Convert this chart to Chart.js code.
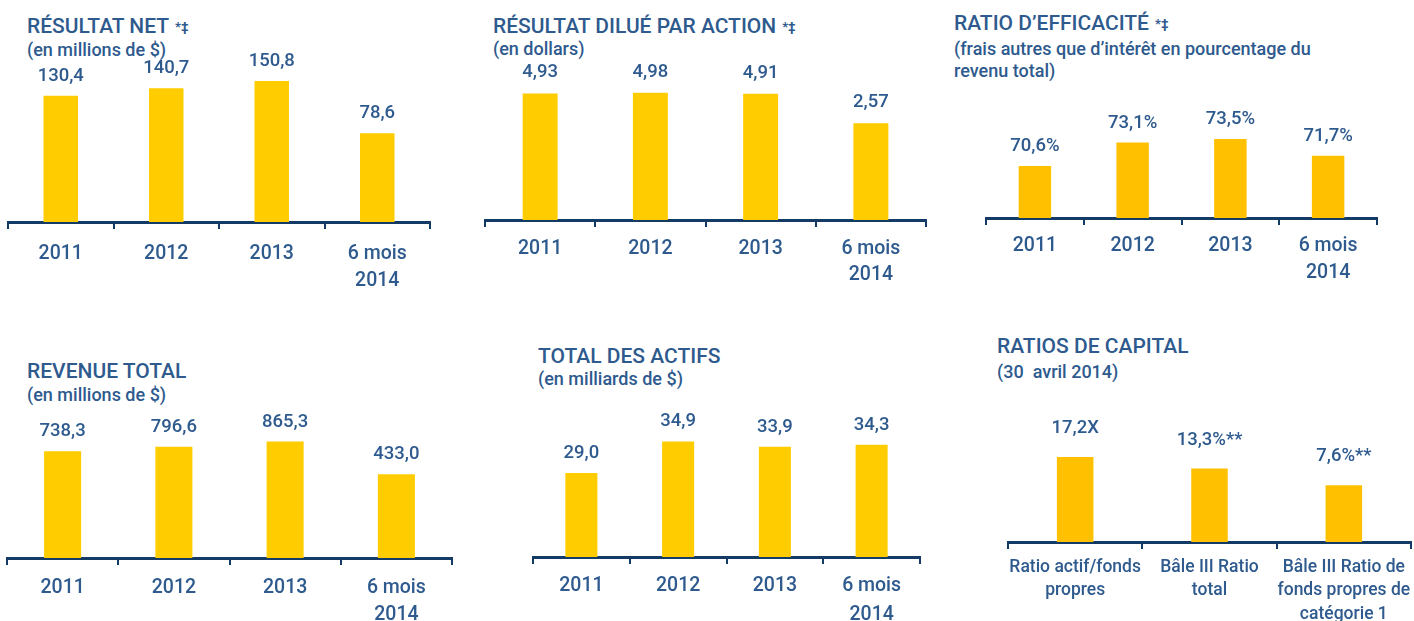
<!DOCTYPE html>
<html lang="fr">
<head>
<meta charset="utf-8">
<title>Faits saillants financiers</title>
<script src="https://cdn.jsdelivr.net/npm/chart.js@4.4.1/dist/chart.umd.min.js"></script>
<style>
html,body{margin:0;padding:0;background:#ffffff;}
body{width:1414px;height:621px;position:relative;overflow:hidden;}
.panel{position:absolute;}
.t{position:absolute;white-space:nowrap;font-family:Roboto,"Open Sans",sans-serif;font-weight:500;color:#2E5A8E;}
.title{font-size:21px;line-height:21px;}
.sub{font-size:18px;line-height:22.3px;}
.mark{font-size:13px;font-weight:700;margin-left:6px;position:relative;top:-2px;}
</style>
</head>
<body>
<div class="t title" style="left:27px;top:15.6px">RÉSULTAT NET<span class="mark">*‡</span></div>
<div class="t sub" style="left:27px;top:39.3px">(en millions de $)</div>

<div class="t title" style="left:493px;top:15.6px">RÉSULTAT DILUÉ PAR ACTION<span class="mark">*‡</span></div>
<div class="t sub" style="left:493px;top:38.3px">(en dollars)</div>

<div class="t title" style="left:954px;top:13px">RATIO D’EFFICACITÉ<span class="mark">*‡</span></div>
<div class="t sub" style="left:954px;top:37.8px">(frais autres que d’intérêt en pourcentage du<br>revenu total)</div>

<div class="t title" style="left:27px;top:360.6px">REVENUE TOTAL</div>
<div class="t sub" style="left:27px;top:383.5px">(en millions de $)</div>

<div class="t title" style="left:538px;top:345.6px">TOTAL DES ACTIFS</div>
<div class="t sub" style="left:538px;top:367.8px">(en milliards de $)</div>

<div class="t title" style="left:997px;top:336.3px">RATIOS DE CAPITAL</div>
<div class="t sub" style="left:997px;top:360.8px;white-space:pre">(30  avril 2014)</div>

<script>
// ---- data ----
const yearCategories = ['2011', '2012', '2013', ['6 mois', '2014']];
const resultatNet = [130.4, 140.7, 150.8, 78.6];
const resultatDilue = [4.93, 4.98, 4.91, 2.57];
const ratioEfficacite = [70.6, 73.1, 73.5, 71.7];
const revenuTotal = [738.3, 796.6, 865.3, 433.0];
const totalActifs = [29.0, 34.9, 33.9, 34.3];
const capitalCategories = [['Ratio actif/fonds', 'propres'], ['Bâle III Ratio', 'total'], ['Bâle III Ratio de', 'fonds propres de', 'catégorie 1']];
const ratiosCapital = [17.2, 13.3, 7.6];
const ratiosCapitalSuffix = ['X', '%**', '%**'];

// ---- styles ----
const TEXT = '#2E5A8E';
const AXIS = '#143A66';
const YELLOW = '#FFCC00';
const AMBER = '#FFC000';
const NUM_FONT = "Roboto, 'Open Sans', sans-serif";

const fmt = (decimals, suffixes) => (v, i) =>
  v.toFixed(decimals).replace('.', ',') + (Array.isArray(suffixes) ? suffixes[i] : suffixes);

const panels = [
  {box: [0, 0, 470, 305], axis: [8, 430, 222], plotTop: 60, range: [-44.07, 179.7],
   labels: yearCategories, values: resultatNet, format: fmt(1, ''), color: YELLOW,
   barPct: 0.327, gap: 15, valSize: 18.5, catSize: 19.5, catLH: 27.5, catPad: 11},
  {box: [470, 0, 470, 305], axis: [485, 926, 220], plotTop: 60, range: [-5.09, 7.58],
   labels: yearCategories, values: resultatDilue, format: fmt(2, ''), color: YELLOW,
   barPct: 0.317, gap: 16, valSize: 18.5, catSize: 19.5, catLH: 26, catPad: 9},
  {box: [940, 0, 474, 305], axis: [986, 1377, 218], plotTop: 58, range: [65.0, 82.19],
   labels: yearCategories, values: ratioEfficacite, format: fmt(1, '%'), color: AMBER,
   barPct: 0.332, gap: 15, valSize: 18.5, catSize: 19.5, catLH: 27, catPad: 7.5},
  {box: [0, 305, 470, 316], axis: [7, 452, 558], plotTop: 400, range: [-670.3, 1414],
   labels: yearCategories, values: revenuTotal, format: fmt(1, ''), color: YELLOW,
   barPct: 0.333, gap: 15, valSize: 18.5, catSize: 19.5, catLH: 27, catPad: 9.5},
  {box: [470, 305, 470, 316], axis: [533, 920, 557], plotTop: 400, range: [13.3, 42.66],
   labels: yearCategories, values: totalActifs, format: fmt(1, ''), color: YELLOW,
   barPct: 0.331, gap: 15, valSize: 18.5, catSize: 19.5, catLH: 29, catPad: 8},
  {box: [940, 305, 474, 316], axis: [1008, 1411, 542], plotTop: 400, range: [-11.62, 36.56],
   labels: capitalCategories, values: ratiosCapital, format: fmt(1, ratiosCapitalSuffix), color: AMBER,
   barPct: 0.272, gap: 24, valSize: 18.5, catSize: 17.5, catLH: 23.5, catPad: 6.75}
];

const valueLabelPlugin = {
  id: 'valueLabels',
  afterDatasetsDraw(chart, args, opts) {
    const ctx = chart.ctx;
    const meta = chart.getDatasetMeta(0);
    const data = chart.data.datasets[0].data;
    ctx.save();
    ctx.font = '500 ' + opts.size + 'px ' + NUM_FONT;
    ctx.fillStyle = TEXT;
    ctx.textAlign = 'center';
    ctx.textBaseline = 'alphabetic';
    meta.data.forEach((bar, i) => {
      ctx.fillText(opts.format(data[i], i), bar.x, bar.y - opts.gap);
    });
    ctx.restore();
  }
};

panels.forEach(p => {
  const [bx, by, bw, bh] = p.box;
  const [axL, axR, axY] = p.axis;
  const div = document.createElement('div');
  div.className = 'panel';
  div.style.left = bx + 'px';
  div.style.top = by + 'px';
  div.style.width = bw + 'px';
  div.style.height = bh + 'px';
  const canvas = document.createElement('canvas');
  div.appendChild(canvas);
  document.body.appendChild(div);
  const xAxisHeight = by + bh - axY;

  new Chart(canvas, {
    type: 'bar',
    data: {
      labels: p.labels,
      datasets: [{
        data: p.values,
        backgroundColor: p.color,
        borderWidth: 0,
        base: p.range[0],
        barPercentage: p.barPct,
        categoryPercentage: 1
      }]
    },
    options: {
      responsive: true,
      maintainAspectRatio: false,
      animation: false,
      devicePixelRatio: 1,
      layout: {padding: {left: axL - bx, right: bx + bw - axR, top: p.plotTop - by, bottom: 0}},
      plugins: {
        legend: {display: false},
        tooltip: {enabled: false},
        valueLabels: {size: p.valSize, gap: p.gap, format: p.format}
      },
      scales: {
        x: {
          offset: true,
          grid: {display: true, offset: true, drawOnChartArea: false, drawTicks: true,
                 tickLength: 7, tickWidth: 2, tickColor: AXIS, lineWidth: 2, color: AXIS},
          border: {display: true, color: AXIS, width: 3},
          ticks: {color: TEXT, autoSkip: false, maxRotation: 0, minRotation: 0, padding: p.catPad,
                  font: {family: NUM_FONT, size: p.catSize, weight: '500', lineHeight: p.catLH / p.catSize}},
          afterFit: s => { s.height = xAxisHeight; s.paddingLeft = 0; s.paddingRight = 0; }
        },
        y: {display: false, min: p.range[0], max: p.range[1]}
      }
    },
    plugins: [valueLabelPlugin]
  });
});
</script>
</body>
</html>
